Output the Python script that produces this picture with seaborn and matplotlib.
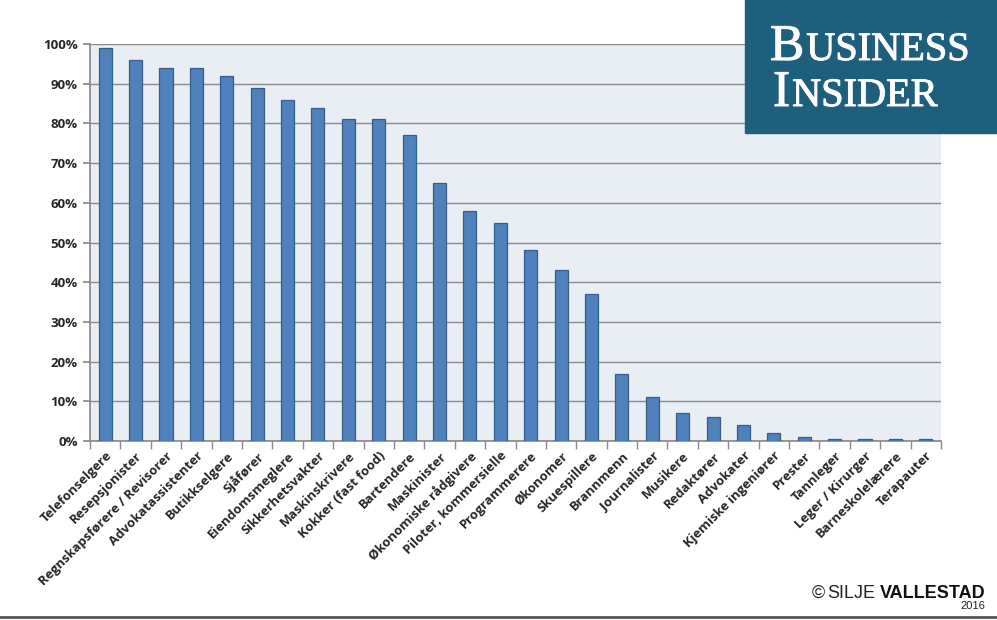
import matplotlib
matplotlib.use("Agg")
import matplotlib.pyplot as plt
import matplotlib.patheffects as pe
import seaborn as sns
import pandas as pd
import numpy as np
from matplotlib.ticker import PercentFormatter, FixedLocator

categories = ["Telefonselgere", "Resepsjonister", "Regnskapsførere / Revisorer",
              "Advokatassistenter", "Butikkselgere", "Sjåfører", "Eiendomsmeglere",
              "Sikkerhetsvakter", "Maskinskrivere", "Kokker (fast food)", "Bartendere",
              "Maskinister", "Økonomiske rådgivere", "Piloter, kommersielle",
              "Programmerere", "Økonomer", "Skuespillere", "Brannmenn", "Journalister",
              "Musikere", "Redaktører", "Advokater", "Kjemiske ingeniører", "Prester",
              "Tannleger", "Leger / Kirurger", "Barneskolelærere", "Terapauter"]
values = [99, 96, 94, 94, 92, 89, 86, 84, 81, 81, 77, 65, 58, 55, 48, 43, 37,
          17, 11, 7, 6, 4, 2, 1, 0.4, 0.4, 0.4, 0.4]
y_ticks = [0, 10, 20, 30, 40, 50, 60, 70, 80, 90, 100]

df = pd.DataFrame({"yrke": categories, "andel": values})

sns.set_theme(style="white")
plt.rcParams["font.family"] = ["Open Sans", "DejaVu Sans"]

fig = plt.figure(figsize=(9.97, 6.20), dpi=100)
ax = fig.add_axes([90/997, 1-441/620, (941-90)/997, (441-44)/620])
ax.set_facecolor("#E9EDF4")

sns.barplot(data=df, x="yrke", y="andel", ax=ax, color="#4F81BD", width=0.43,
            edgecolor="#385D8A", linewidth=0.9, saturation=1, zorder=3)

ax.set_ylim(0, 100)
ax.set_xlim(-0.5, len(categories)-0.5)
ax.yaxis.set_major_locator(FixedLocator(y_ticks))
ax.yaxis.set_major_formatter(PercentFormatter(decimals=0))
ax.grid(axis="y", color="#8A8A8A", linewidth=1.0, zorder=0)
ax.set_axisbelow(True)
ax.set_xlabel("")
ax.set_ylabel("")

for s in ["top", "right"]:
    ax.spines[s].set_visible(False)
ax.spines["left"].set_color("#8A8A8A")
ax.spines["bottom"].set_color("#8A8A8A")

ax.tick_params(axis="y", which="major", length=5, color="#8A8A8A", left=True,
               labelsize=9.5, pad=4)
for lab in ax.get_yticklabels():
    lab.set_fontweight("bold")

ax.set_xticks(range(len(categories)))
ax.set_xticklabels(categories, rotation=45, ha="right", rotation_mode="anchor",
                   fontsize=9.4, fontweight="bold")
ax.tick_params(axis="x", which="major", length=0, pad=6)
ax.set_xticks(np.arange(-0.5, len(categories)), minor=True)
ax.tick_params(axis="x", which="minor", length=6, color="#8A8A8A", bottom=True)

# Business Insider logo
fig.patches.append(plt.Rectangle((745/997, 1-133/620), 252/997, 133/620,
                                 transform=fig.transFigure, color="#1F5F7E", zorder=5))
serif = ["Liberation Serif", "DejaVu Serif"]
stroke = [pe.withStroke(linewidth=0.7, foreground="white")]
def smallcaps(word, x, y, big, small):
    r = fig.canvas.get_renderer()
    t = fig.text(x, y, word[0], fontsize=big, family=serif, color="white", zorder=6,
                 ha="left", va="baseline", path_effects=stroke)
    bb = t.get_window_extent(renderer=r)
    fig.text(x + bb.width/997 + 0.002, y, word[1:], fontsize=small, family=serif,
             color="white", zorder=6, ha="left", va="baseline", path_effects=stroke)
smallcaps("BUSINESS", 770/997, 1-60/620, 37, 29)
smallcaps("INSIDER", 773/997, 1-106/620, 37, 29)

# copyright
fig.text(812/997, 1-598/620, "©", fontsize=13, family=["Liberation Sans"],
         color="#222222", ha="left", va="baseline")
fig.text(827/997, 1-598/620, "SILJE", fontsize=13, family=["Liberation Sans"],
         fontweight="light", color="#222222", ha="left", va="baseline")
fig.text(985/997, 1-598/620, "VALLESTAD", fontsize=13, family=["Liberation Sans"],
         fontweight="bold", color="#111111", ha="right", va="baseline")
fig.text(985/997, 1-609/620, "2016", fontsize=8, family=["Liberation Sans"],
         color="#222222", ha="right", va="baseline")

fig.add_artist(plt.Line2D([0, 1], [1-617/620, 1-617/620], transform=fig.transFigure,
                          color="#555555", linewidth=2))

fig.savefig("out.png", dpi=100, facecolor="white")
